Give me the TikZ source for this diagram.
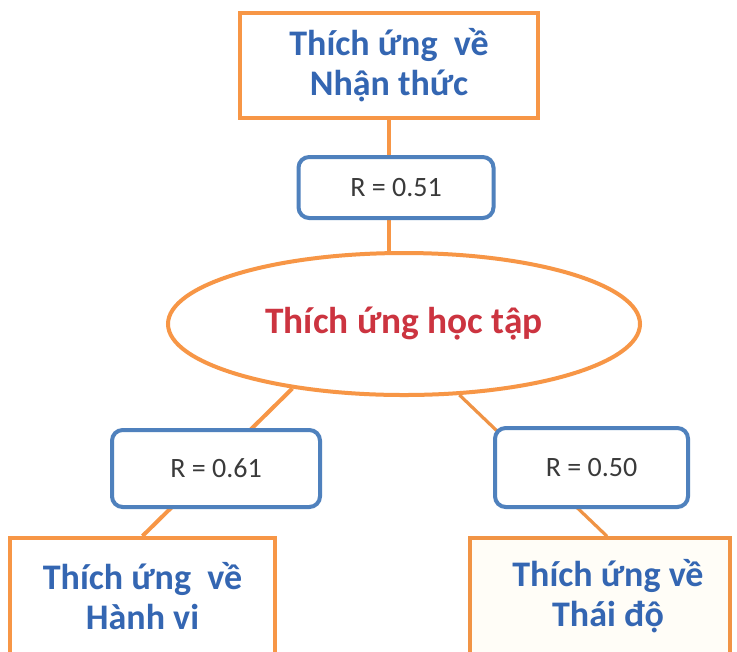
\documentclass[tikz,border=0pt]{standalone}
\usepackage{fontspec}
\setmainfont{Carlito}
\usetikzlibrary{shapes.geometric,calc}
\definecolor{orng}{HTML}{F79646}
\definecolor{bluebd}{HTML}{4F81BD}
\definecolor{bluetx}{HTML}{3466B2}
\definecolor{redtx}{HTML}{CC3440}
\definecolor{graytx}{HTML}{3A3A3A}
\definecolor{cream}{HTML}{FFFDF7}
\tikzset{
  headbox/.style={draw=orng, line width=3pt, fill=white, inner sep=0pt, align=center,
    text=bluetx, font=\fontsize{27}{30}\selectfont\bfseries},
  rbox/.style={draw=bluebd, line width=3pt, fill=white, rounded corners=8pt, inner sep=0pt,
    text=graytx, font=\fontsize{21}{24}\selectfont},
  link/.style={draw=orng, line width=3pt},
}
\begin{document}
\begin{tikzpicture}[x=0.75pt,y=-0.75pt]
\useasboundingbox (0,0) rectangle (737,651);
\clip (0,0) rectangle (737,651);
\fill[white] (0,0) rectangle (737,651);
% nodes
\node[headbox, minimum width=223.5pt, minimum height=78.75pt] (top) at (389,65.5) {Thích ứng~ về\\Nhận thức};
\node[draw=orng, line width=3pt, fill=white, ellipse, inner sep=0pt, minimum width=354pt, minimum height=106.5pt,
  text=redtx, font=\fontsize{28}{30}\selectfont\bfseries] (ell) at (404,324) {Thích ứng học tập};
\node[headbox, minimum width=198.75pt, minimum height=87pt] (hv) at (142.5,596) {Thích ứng~ về\\Hành vi};
\node[headbox, fill=cream, draw=orng!90!brown, line width=2.6pt, minimum width=195pt, minimum height=87pt] (td) at (600,596) {\hspace*{12pt}Thích ứng về\\\hspace*{12pt}Thái độ};
% connectors (drawn before R boxes so the boxes sit on top)
\draw[link] (top.south) -- (top.south |- ell.north);
\draw[link] (ell.210.9) -- (hv.north);
\draw[link, draw=orng!85!brown, line width=2.4pt] (ell.-52) -- ($(td.north)+(7,0)$);
% R boxes
\node[rbox, minimum width=146.25pt, minimum height=45.75pt] (r1) at (396,187.5) {R = 0.51};
\node[rbox, minimum width=156pt, minimum height=57.75pt] (r2) at (216,468.5) {R = 0.61};
\node[rbox, minimum width=144.75pt, minimum height=59.25pt] (r3) at (591.5,467.5) {R = 0.50};
\end{tikzpicture}
\end{document}
